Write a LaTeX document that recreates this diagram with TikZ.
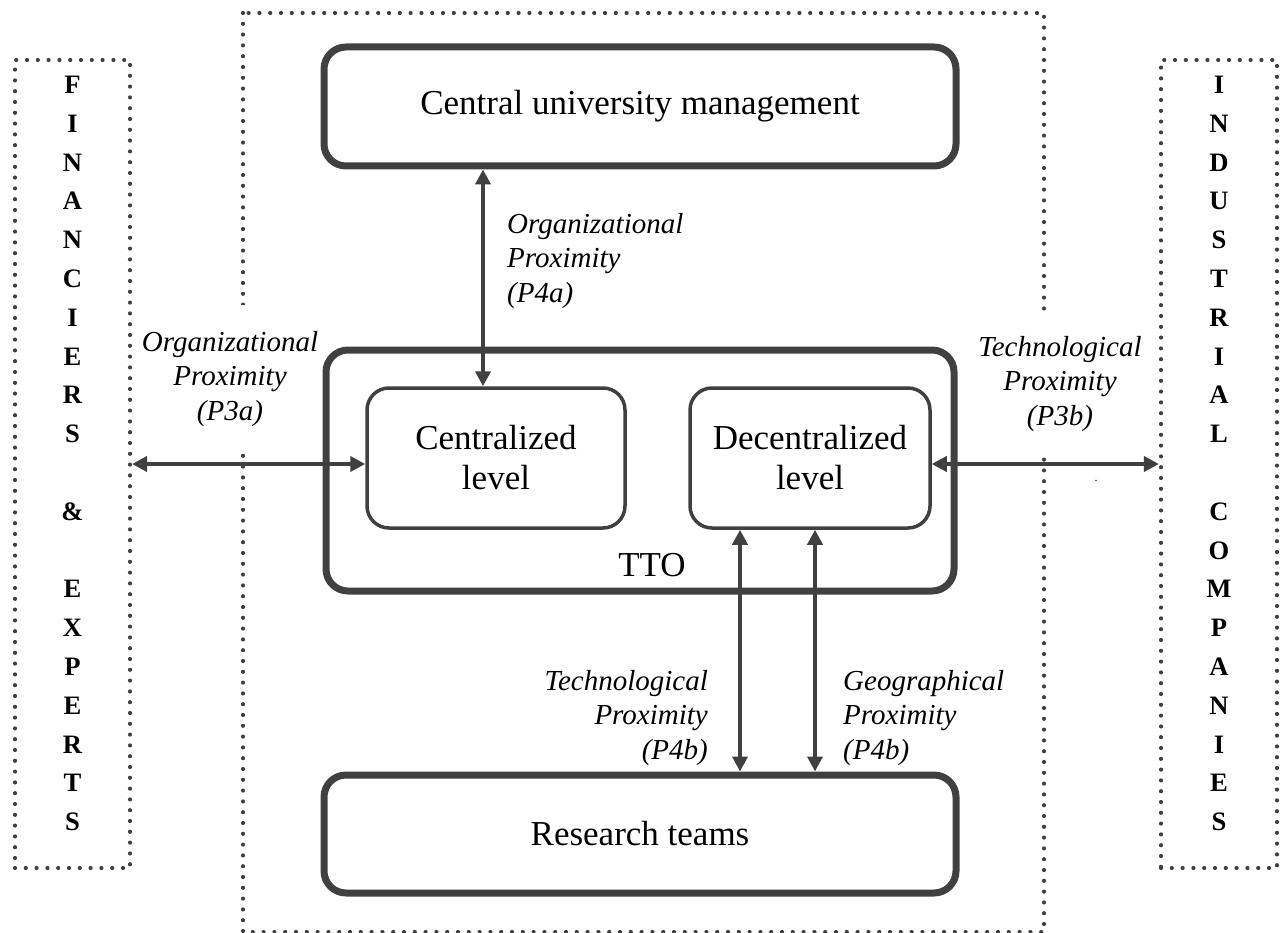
\documentclass[tikz,border=0pt]{standalone}
\usepackage{fontspec}
\setmainfont{Liberation Serif}
\usetikzlibrary{arrows.meta,calc}
\definecolor{ink}{HTML}{404040}

\begin{document}
\begin{tikzpicture}[x=1pt,y=-1pt,
  dots/.style={draw=ink, line width=4.2pt, line cap=round, dash pattern=on 0pt off 10.8pt},
  bigbox/.style={draw=ink, line width=7pt, rounded corners=22pt},
  smallbox/.style={draw=ink, line width=3.5pt, rounded corners=22pt, align=center},
  arr/.style={draw=ink, line width=4pt, {Triangle[length=15pt,width=15pt]}-{Triangle[length=15pt,width=15pt]}},
  lbl/.style={font=\fontsize{29}{34.5}\selectfont\itshape, inner sep=0pt},
  big/.style={font=\fontsize{35}{40}\selectfont},
  col/.style={font=\fontsize{26.6}{38.8}\selectfont\bfseries, align=center, inner sep=0pt}]

\useasboundingbox (0,0) rectangle (1282,933);

% dotted frame around the university
\draw[dots] (243,13) rectangle (1044,932);

% outside partners
\node[dots, minimum width=115pt, minimum height=808pt] (fin) at (72.5,464) {};
\node[col] (fint) at (72.5,453.5) {F\\I\\N\\A\\N\\C\\I\\E\\R\\S\\\mbox{}\\\&\\\mbox{}\\E\\X\\P\\E\\R\\T\\S};
\node[dots, minimum width=116pt, minimum height=808pt] (ind) at (1219,464) {};
\node[col] (indt) at (1219,453.5) {I\\N\\D\\U\\S\\T\\R\\I\\A\\L\\\mbox{}\\C\\O\\M\\P\\A\\N\\I\\E\\S};

% university boxes
\node[bigbox, big, minimum width=632pt, minimum height=119pt] (cum) at (640,106.5) {Central university management};
\node[bigbox, minimum width=628pt, minimum height=241pt] (tto) at (640,470.5) {};
\node[big] (ttot) at (652,565) {TTO};
\node[smallbox, big, minimum width=258pt, minimum height=140pt] (cl) at (496,458) {Centralized\\level};
\node[smallbox, big, minimum width=240pt, minimum height=140pt] (dl) at (810,458) {Decentralized\\level};
\node[bigbox, big, minimum width=632pt, minimum height=118pt] (rt) at (640,834) {Research teams};

% proximity labels
\node[lbl, align=left, anchor=west] (p4a) at (507,261) {Organizational\\Proximity\\(P4a)};
\node[lbl, align=center, fill=white, inner xsep=3pt, minimum height=148pt] (p3a) at (230,379) {Organizational\\Proximity\\(P3a)};
\node[lbl, align=center, fill=white, inner xsep=3pt, minimum height=142pt] (p3b) at (1060,384) {Technological\\Proximity\\(P3b)};
\node[lbl, align=right, anchor=east] (p4bt) at (708,718) {Technological\\Proximity\\(P4b)};
\node[lbl, align=left, anchor=west] (p4bg) at (843,718) {Geographical\\Proximity\\(P4b)};
\node[font=\fontsize{12}{12}\selectfont, inner sep=0pt] (dot) at (1096,481) {.};

% connectors
\draw[arr] ($(fin.east |- cl.west)+(0,6)$) -- ($(cl.west)+(0,6)$);
\draw[arr] ($(dl.east)+(0,6)$) -- ($(ind.west |- dl.east)+(0,6)$);
\draw[arr] ($(cum.south)+(-157,0)$) -- ($(cl.north)+(-13,0)$);
\draw[arr] ($(dl.south)+(-70,0)$) -- ($(dl.south |- rt.north)+(-70,0)$);
\draw[arr] ($(dl.south)+(5,0)$) -- ($(dl.south |- rt.north)+(5,0)$);
\end{tikzpicture}
\end{document}
